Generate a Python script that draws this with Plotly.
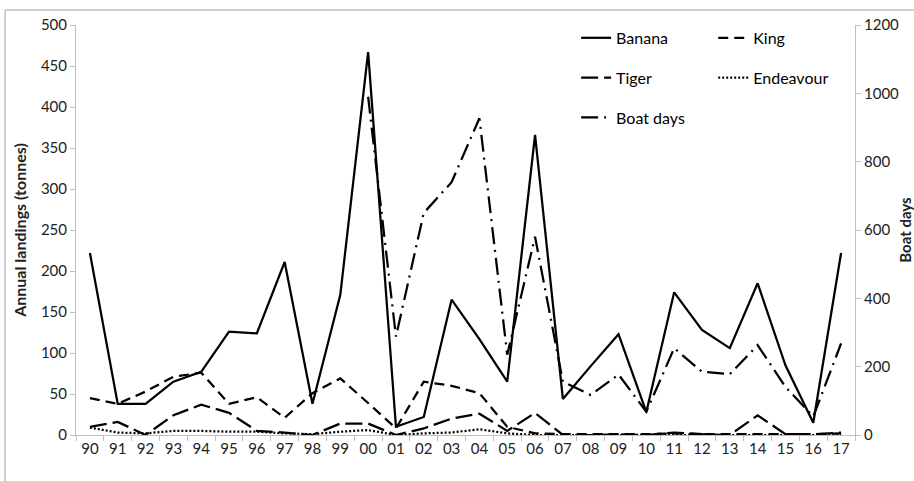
import plotly.graph_objects as go

years = ["90", "91", "92", "93", "94", "95", "96", "97", "98", "99",
         "00", "01", "02", "03", "04", "05", "06", "07", "08", "09",
         "10", "11", "12", "13", "14", "15", "16", "17"]
banana = [222, 38, 38, 65, 77, 126, 124, 211, 38, 171,
          467, 10, 22, 165, 117, 65, 366, 44, 84, 123,
          28, 174, 128, 106, 185, 85, 15, 222]
king = [45, 38, 53, 71, 76, 38, 46, 21, 51, 69,
        39, 8, 65, 60, 51, 10, 2, 1, 1, 1,
        1, 2, 1, 1, 1, 1, 1, 2]
tiger = [10, 16, 0, 24, 37, 27, 5, 3, 0, 14,
         14, 0, 8, 20, 26, 5, 27, 0, 0, 1,
         0, 3, 1, 0, 24, 1, 1, 3]
endeavour = [9, 3, 2, 5, 5, 4, 4, 2, 1, 4,
             6, 0, 2, 3, 7, 2, 0, 0, 0, 0,
             0, 0, 0, 0, 0, 0, 0, 0]
boat_days = [None, None, None, None, None, None, None, None, None, None,
             990, 288, 650, 740, 927, 235, 580, 156, 117, 177,
             68, 254, 185, 178, 263, 141, 54, 268]

FONT = "Lato"
AX = "#bfbfbf"

fig = go.Figure()
fig.add_trace(go.Scatter(x=years, y=banana, name="Banana", mode="lines",
                         line=dict(color="black", width=2.25, dash="solid"),
                         legend="legend", legendgroup="a"))
fig.add_trace(go.Scatter(x=years, y=king, name="King", mode="lines",
                         line=dict(color="black", width=2.25, dash="10px,6px"),
                         legend="legend2", legendgroup="b"))
fig.add_trace(go.Scatter(x=years, y=tiger, name="Tiger", mode="lines",
                         line=dict(color="black", width=2.25, dash="17px,6px"),
                         legend="legend", legendgroup="c"))
fig.add_trace(go.Scatter(x=years, y=endeavour, name="Endeavour", mode="lines",
                         line=dict(color="black", width=2.25, dash="2px,2px"),
                         legend="legend2", legendgroup="d"))
fig.add_trace(go.Scatter(x=years, y=boat_days, name="Boat days", mode="lines",
                         line=dict(color="black", width=2.25, dash="17px,6px,2px,6px"),
                         yaxis="y2", connectgaps=False,
                         legend="legend", legendgroup="e"))

legend_common = dict(font=dict(family=FONT, size=16, color="black"),
                     bgcolor="rgba(0,0,0,0)", tracegroupgap=16,
                     yanchor="top", xanchor="left", traceorder="grouped")

fig.update_layout(
    width=914, height=481,
    margin=dict(l=76, r=59, t=25, b=46, autoexpand=False),
    paper_bgcolor="white", plot_bgcolor="white",
    font=dict(family=FONT, size=15, color="black"),
    showlegend=True,
    legend=dict(x=0.642, y=1.01, **legend_common),
    legend2=dict(x=0.818, y=1.01, **legend_common),
    xaxis=dict(type="category", range=[-0.5, 27.5], showgrid=False,
               showline=True, linecolor=AX,
               linewidth=1, ticks="outside", tickson="boundaries", ticklen=5,
               tickcolor=AX, tickfont=dict(family=FONT, size=15, color="#222"),
               zeroline=False),
    yaxis=dict(range=[0, 500], dtick=50, showgrid=False, showline=True,
               linecolor=AX, linewidth=1, ticks="outside", ticklen=5,
               tickcolor=AX, zeroline=False,
               tickfont=dict(family=FONT, size=15, color="#222"),
               title=dict(text="<b>Annual landings (tonnes)</b>",
                          font=dict(family=FONT, size=16, color="#222"),
                          standoff=10)),
    yaxis2=dict(range=[0, 1200], dtick=200, overlaying="y", side="right",
                showgrid=False, showline=True, linecolor=AX, linewidth=1,
                ticks="outside", ticklen=5, tickcolor=AX, zeroline=False,
                tickfont=dict(family=FONT, size=15, color="#222"),
                title=dict(text="<b>Boat days</b>",
                           font=dict(family=FONT, size=15, color="#222"),
                           standoff=25)),
    shapes=[dict(type="rect", xref="paper", yref="paper",
                 x0=-0.0911, x1=1.3, y0=-0.25, y1=1.0366,
                 line=dict(color="#a0a0a0", width=1), layer="below")],
)

fig.write_html("out.html",
               config={"displayModeBar": False},
               post_script="document.body.style.margin='0';"
                           "document.body.style.overflow='hidden';")
